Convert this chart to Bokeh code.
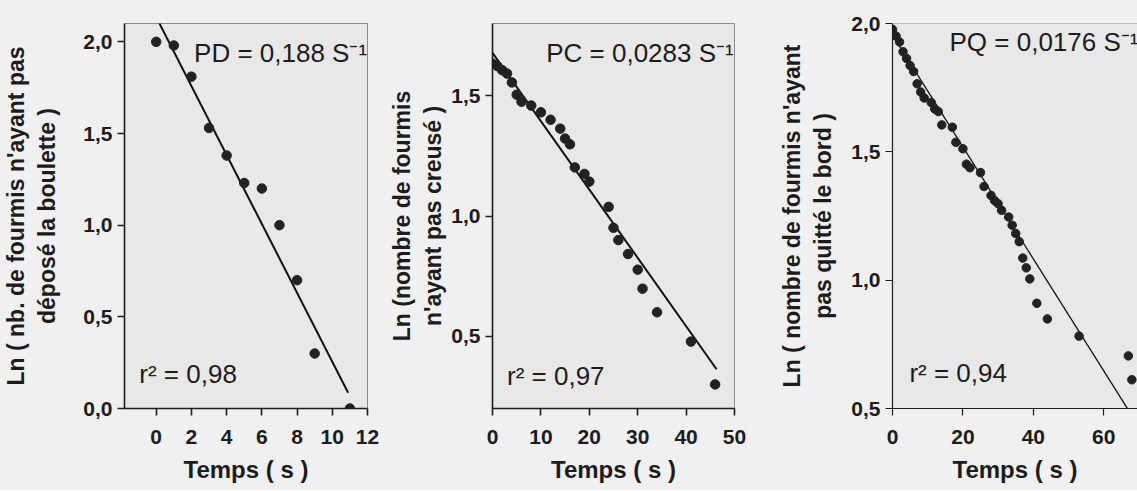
from bokeh.plotting import figure
from bokeh.layouts import row
from bokeh.models import Range1d, FixedTicker, CustomJSTickFormatter, Label, Span
from bokeh.embed import file_html
from bokeh.resources import INLINE

# ---------------- data ----------------
# Panel 1 : dépôt de la boulette
t_pd = [0, 1, 2, 3, 4, 5, 6, 7, 8, 9, 11]
ln_pd = [2.00, 1.98, 1.81, 1.53, 1.38, 1.23, 1.20, 1.00, 0.70, 0.30, 0.00]
fit_pd = {"intercept": 2.135, "slope": -0.188, "x": [0.0, 10.9]}
label_pd = "PD = 0,188 S⁻¹"
r2_pd = "r² = 0,98"

# Panel 2 : creusement
t_pc = [0, 1, 2, 3, 4, 5, 6, 8, 10, 12, 14, 15, 16, 17, 19, 20, 24, 25, 26, 28, 30, 31, 34, 41, 46]
ln_pc = [1.633, 1.623, 1.606, 1.592, 1.555, 1.504, 1.475, 1.459, 1.431, 1.400, 1.363, 1.322,
         1.298, 1.202, 1.175, 1.143, 1.038, 0.951, 0.900, 0.842, 0.777, 0.698, 0.600, 0.478, 0.300]
fit_pc = {"intercept": 1.678, "slope": -0.0284, "x": [0.0, 46.3]}
label_pc = "PC = 0,0283 S⁻¹"
r2_pc = "r² = 0,97"

# Panel 3 : quitter le bord
t_pq = [0, 1, 2, 3, 4, 5, 6, 7, 8, 9, 11, 12, 13, 14, 17, 18, 20, 21, 22, 25, 26, 28, 29,
        30, 31, 33, 34, 35, 36, 37, 38, 39, 41, 44, 53, 67, 68]
ln_pq = [1.977, 1.951, 1.928, 1.890, 1.864, 1.836, 1.813, 1.765, 1.733, 1.710, 1.692, 1.667,
         1.657, 1.605, 1.596, 1.537, 1.512, 1.452, 1.438, 1.419, 1.365, 1.330, 1.310, 1.298,
         1.272, 1.246, 1.214, 1.182, 1.150, 1.086, 1.048, 1.005, 0.910, 0.849, 0.782, 0.705, 0.612]
fit_pq = {"intercept": 1.955, "slope": -0.0218, "x": [0.0, 67.0]}
label_pq = "PQ = 0,0176 S⁻¹"
r2_pq = "r² = 0,94"

xlabel = "Temps ( s )"
ylabel_pd = "Ln ( nb. de fourmis n'ayant pas\ndéposé la boulette )"
ylabel_pc = "Ln (nombre de fourmis\nn'ayant pas creusé )"
ylabel_pq = "Ln ( nombre de fourmis n'ayant\npas quitté le bord )"

xticks_pd = [0, 2, 4, 6, 8, 10, 12]
yticks_pd = [0.0, 0.5, 1.0, 1.5, 2.0]
xticks_pc = [0, 10, 20, 30, 40, 50]
yticks_pc = [0.5, 1.0, 1.5]
xticks_pq = [0, 20, 40, 60]
yticks_pq = [0.5, 1.0, 1.5, 2.0]

# ---------------- style ----------------
FONT = "Liberation Sans"
BG_OUT = "#f0f0f0"
BG_IN = "#e8e8e8"
INK = "#1c1c1c"
H = 490

comma_fmt = CustomJSTickFormatter(code="return tick.toFixed(1).replace('.', ',');")


def panel(width, mbl, mbr, mbt, mbb, xr, yr, xt, yt, ylabel, ylab_standoff,
          axis_w, outline=True):
    p = figure(width=width, height=H, x_range=Range1d(*xr), y_range=Range1d(*yr),
               output_backend="svg", toolbar_location=None,
               min_border_left=mbl, min_border_right=mbr,
               min_border_top=mbt, min_border_bottom=mbb)
    p.grid.visible = False
    p.background_fill_color = BG_IN
    p.border_fill_color = BG_OUT
    if outline:
        p.outline_line_color = "#8c8c8c"
        p.outline_line_width = 1
    else:
        p.outline_line_color = None
        p.add_layout(Span(location=yr[1], dimension="width", line_color="#8c8c8c", line_width=1))
    p.xaxis.ticker = FixedTicker(ticks=xt)
    p.yaxis.ticker = FixedTicker(ticks=yt)
    p.yaxis.formatter = comma_fmt
    for ax in (p.xaxis, p.yaxis):
        ax.axis_line_color = INK
        ax.axis_line_width = axis_w
        ax.major_tick_line_color = INK
        ax.major_tick_line_width = axis_w
        ax.major_tick_in = 0
        ax.major_tick_out = 7
        ax.minor_tick_in = 0
        ax.minor_tick_out = 0
        ax.major_label_text_font = FONT
        ax.major_label_text_font_style = "bold"
        ax.major_label_text_font_size = "21px"
        ax.major_label_text_color = INK
        ax.axis_label_text_font = FONT
        ax.axis_label_text_font_style = "bold"
        ax.axis_label_text_font_size = "24px"
        ax.axis_label_text_color = INK
    p.xaxis.axis_label = xlabel
    p.xaxis.major_label_standoff = 14
    p.xaxis.axis_label_standoff = 9
    p.yaxis.axis_label = ylabel
    p.yaxis.major_label_standoff = 5
    p.yaxis.axis_label_standoff = ylab_standoff
    p.yaxis.axis_label_text_font_size = "23px"
    return p


def add_content(p, t, y, fit, label, r2, lab_xy, r2_xy, dot, line_w):
    xs = fit["x"]
    ys = [fit["intercept"] + fit["slope"] * v for v in xs]
    p.line(xs, ys, line_color="#111111", line_width=line_w)
    p.scatter(t, y, size=dot, fill_color="#222222", line_color="#222222")
    p.add_layout(Label(x=lab_xy[0], y=lab_xy[1], text=label, text_font=FONT,
                       text_font_size="26px", text_color=INK, text_baseline="alphabetic"))
    p.add_layout(Label(x=r2_xy[0], y=r2_xy[1], text=r2, text_font=FONT,
                       text_font_size="26px", text_color=INK, text_baseline="alphabetic"))


# panel 1 : page x 0..384, frame 123..367
p1 = panel(384, 123, 17, 23, 82, (-1.8, 12), (0, 2.1), xticks_pd, yticks_pd,
           ylabel_pd, 20, 1.6)
add_content(p1, t_pd, ln_pd, fit_pd, label_pd, r2_pd, (2.15, 1.94), (-0.96, 0.19), 9.5, 2)

# panel 2 : page x 384..776, frame 492..734
p2 = panel(392, 108, 42, 23, 79, (0, 50), (0.2, 1.8), xticks_pc, yticks_pc,
           ylabel_pc, 2, 1.6)
add_content(p2, t_pc, ln_pc, fit_pc, label_pc, r2_pc, (11.1, 1.678), (3.0, 0.334), 9.5, 2)

# panel 3 : page x 776..1137, frame 891..1137
p3 = panel(361, 115, 0, 21, 81, (0, 69.6), (0.5, 2.0), xticks_pq, yticks_pq,
           ylabel_pq, 12, 1.2, outline=False)
add_content(p3, t_pq, ln_pq, fit_pq, label_pq, r2_pq, (16.2, 1.928), (4.8, 0.637), 8.5, 1.3)

layout = row(p1, p2, p3, styles={"background-color": BG_OUT})
html = file_html(layout, INLINE)
html = html.replace("<body>", '<body style="background-color: %s;">' % BG_OUT, 1)
open("out.html", "w").write(html)
